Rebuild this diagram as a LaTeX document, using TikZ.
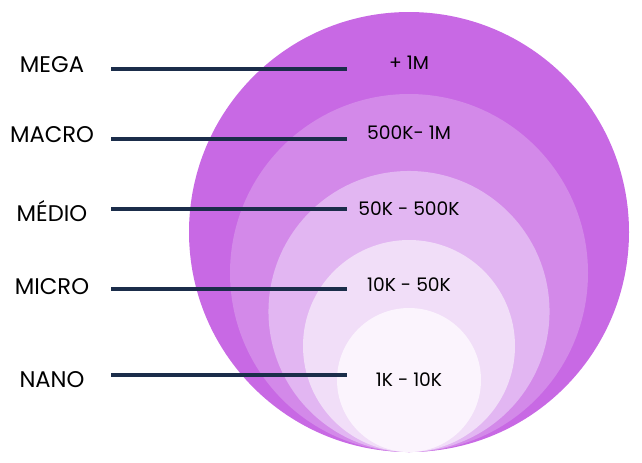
\documentclass[tikz,border=0pt]{standalone}
\usepackage{fontspec}
\setmainfont{Poppins}
\definecolor{ringa}{HTML}{C869E4}
\definecolor{ringb}{HTML}{D389E9}
\definecolor{ringc}{HTML}{E2B6F2}
\definecolor{ringd}{HTML}{F1DEF8}
\definecolor{ringe}{HTML}{FBF4FD}
\definecolor{barcol}{HTML}{1B2D4A}
\begin{document}
\begin{tikzpicture}[x=0.75pt, y=-0.75pt,
    tier/.style = {font=\fontsize{17}{19}\selectfont},
    fans/.style = {font=\fontsize{14}{16}\selectfont},
    bar/.style = {draw=barcol, line width=3pt}]
	\useasboundingbox (0,0) rectangle (642,462);
	% nested rings, all touching at the bottom
	\fill[ringa] (409,232) circle (165pt);
	\fill[ringb] (409,273) circle (134.25pt);
	\fill[ringc] (409,311.5) circle (105.4pt);
	\fill[ringd] (409,346) circle (79.5pt);
	\fill[ringe] (409,380) circle (54pt);
	% tier names
	\node[tier] (mega) at (52,65) {MEGA};
	\node[tier] (macro) at (52,135) {MACRO};
	\node[tier] (medio) at (52,211) {MÉDIO};
	\node[tier] (micro) at (52,287) {MICRO};
	\node[tier] (nano) at (52,380) {NANO};
	% follower ranges
	\node[fans] (rmega) at (409,63) {+ 1M};
	\node[fans] (rmacro) at (409,133) {500K- 1M};
	\node[fans] (rmedio) at (409,209) {50K - 500K};
	\node[fans] (rmicro) at (409,285) {10K - 50K};
	\node[fans] (rnano) at (409,380) {1K - 10K};
	% bars
	\coordinate (a1) at (111,69); \coordinate (b1) at (347,69);
	\coordinate (a2) at (111,139); \coordinate (b2) at (347,139);
	\coordinate (a3) at (111,209); \coordinate (b3) at (347,209);
	\coordinate (a4) at (111,289); \coordinate (b4) at (347,289);
	\coordinate (a5) at (111,375); \coordinate (b5) at (347,375);
	\draw[bar] (a1) -- (b1);
	\draw[bar] (a2) -- (b2);
	\draw[bar] (a3) -- (b3);
	\draw[bar] (a4) -- (b4);
	\draw[bar] (a5) -- (b5);
\end{tikzpicture}
\end{document}
